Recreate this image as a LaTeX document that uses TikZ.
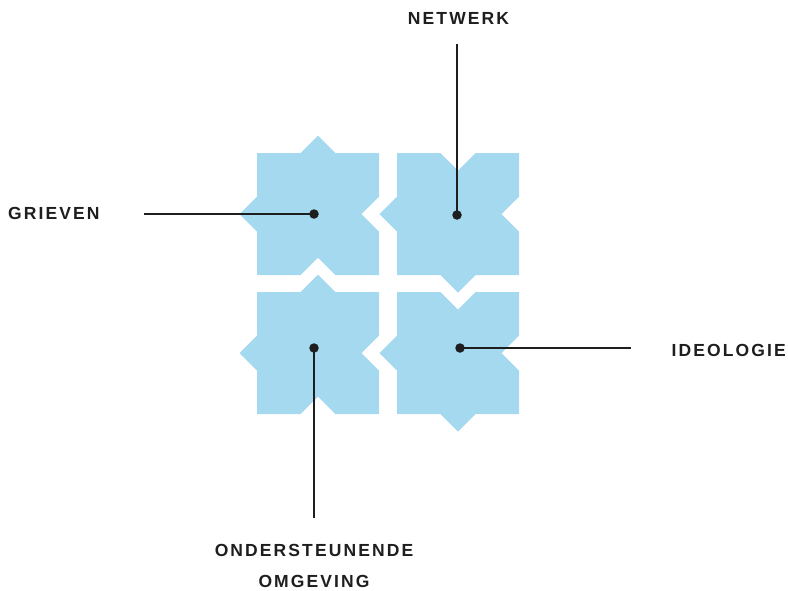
\documentclass[tikz,border=0pt]{standalone}
\usepackage{fontspec}
\newfontfamily\labelfont{Liberation Sans}[LetterSpace=12]
\definecolor{tileblue}{HTML}{A5D9F0}
\definecolor{ink}{HTML}{1E1E1E}
\tikzset{
  tilefill/.style={fill=tileblue, draw=none},
  pics/tile/.style n args={4}{code={
    \fill[tilefill] (0,0) -- (43.5,0) -- (61,{-17.5*#1}) -- (78.5,0) -- (122,0)
      -- (122,43.5) -- ({122+17.5*#2},61) -- (122,78.5) -- (122,122)
      -- (78.5,122) -- (61,{122+17.5*#3}) -- (43.5,122) -- (0,122)
      -- (0,78.5) -- ({-17.5*#4},61) -- (0,43.5) -- cycle;
  }},
  dot/.style={circle, fill=ink, inner sep=0pt, minimum size=9.5pt},
  leader/.style={draw=ink, line width=2.4pt},
  lbl/.style={text=ink, inner sep=0pt, font=\labelfont\bfseries\fontsize{17.5}{30.5}\selectfont}
}
\begin{document}
\begin{tikzpicture}[x=1pt, y=-1pt]
\useasboundingbox (0,0) rectangle (788,590);
% tiles
\pic at (257,153) {tile={1}{-1}{-1}{1}};
\pic at (397,153) {tile={-1}{-1}{1}{1}};
\pic at (257,292) {tile={1}{-1}{-1}{1}};
\pic at (397,292) {tile={-1}{-1}{1}{1}};
% dots
\node[dot] (d1) at (314,214) {};
\node[dot] (d2) at (457,215) {};
\node[dot] (d3) at (314,348) {};
\node[dot] (d4) at (460,348) {};
% leader ends
\coordinate (e1) at (144,214);
\coordinate (e2) at (457,44);
\coordinate (e3) at (314,518);
\coordinate (e4) at (631,348);
\draw[leader] (e1) -- (d1.center);
\draw[leader] (e2) -- (d2.center);
\draw[leader] (e3) -- (d3.center);
\draw[leader] (e4) -- (d4.center);
% labels
\node[lbl, anchor=base west] (l1) at (8,219) {GRIEVEN};
\node[lbl, anchor=base] (l2) at (458.5,24.3) {NETWERK};
\node[lbl, anchor=base west] (l4) at (671.5,356) {IDEOLOGIE};
\node[lbl, anchor=base, align=center] (l3) at (314,587) {ONDERSTEUNENDE\\OMGEVING};
\end{tikzpicture}
\end{document}
